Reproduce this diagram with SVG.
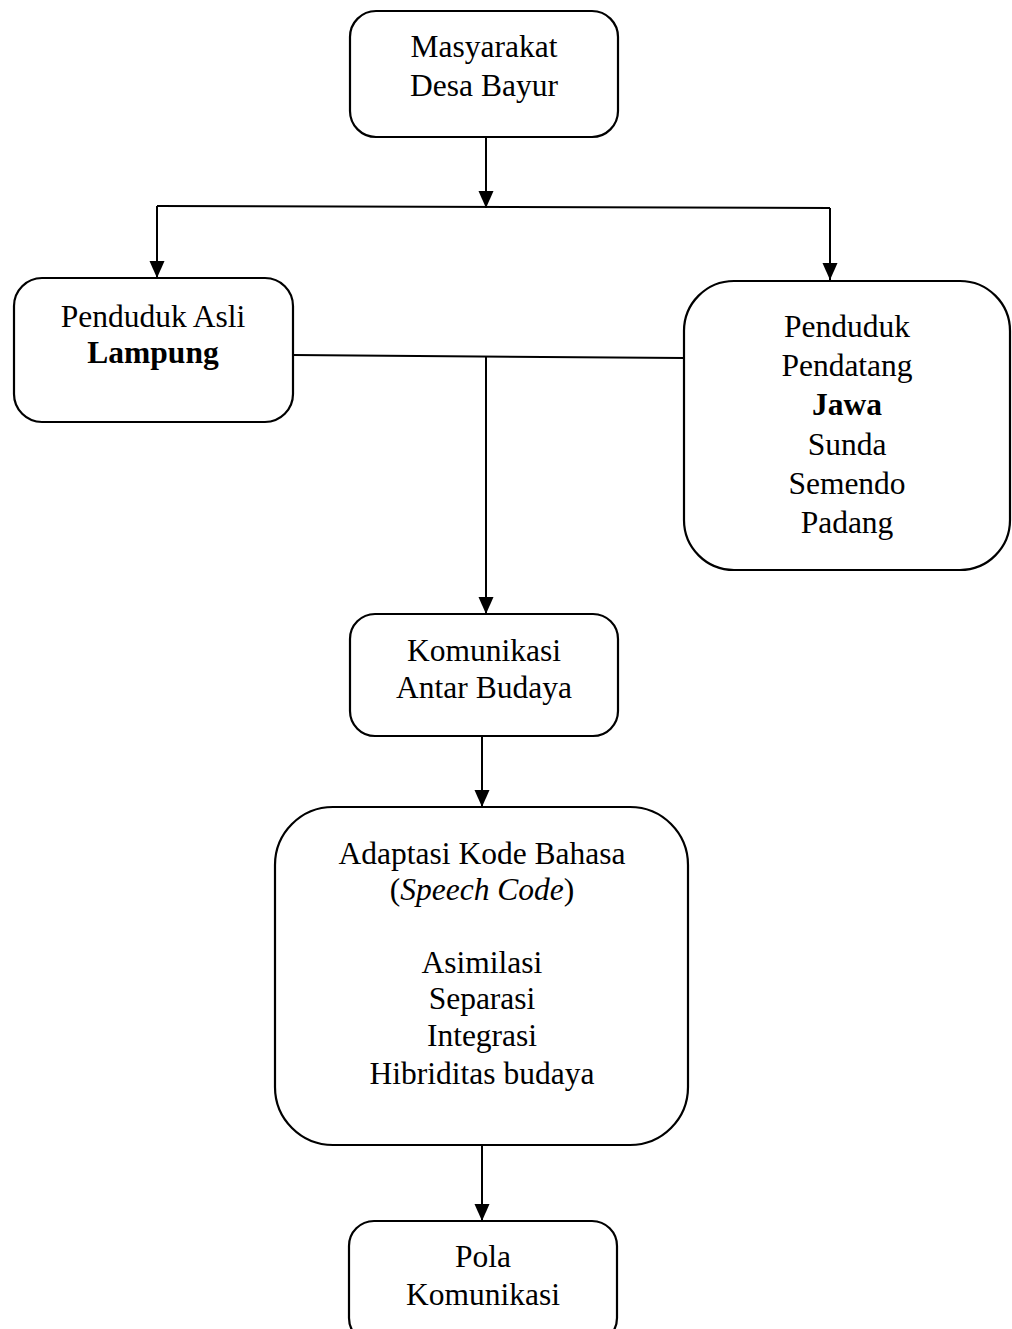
<svg xmlns="http://www.w3.org/2000/svg" width="1012" height="1329" viewBox="0 0 1012 1329">
<style>
.box{fill:#fff;stroke:#000;stroke-width:2.2}
.t{font-family:"Liberation Serif","Times New Roman",serif;font-size:31.5px;fill:#000;text-anchor:middle}
.b{font-weight:bold}
.i{font-style:italic}
.c{stroke:#000;stroke-width:2;fill:none}
</style>
<defs>
<marker id="ah" markerUnits="userSpaceOnUse" markerWidth="18" markerHeight="16" refX="17" refY="7.5" orient="auto">
<path d="M0,0 L17,7.5 L0,15 z" fill="#000"/>
</marker>
</defs>
<g id="connectors">
<line class="c" x1="486" y1="137" x2="486" y2="208" marker-end="url(#ah)"/>
<line class="c" x1="157" y1="206" x2="830" y2="208"/>
<line class="c" x1="157" y1="206" x2="157" y2="278" marker-end="url(#ah)"/>
<line class="c" x1="830" y1="208" x2="830" y2="280" marker-end="url(#ah)"/>
<line class="c" x1="293" y1="355" x2="684" y2="358"/>
<line class="c" x1="486" y1="357" x2="486" y2="614" marker-end="url(#ah)"/>
<line class="c" x1="482" y1="736" x2="482" y2="807" marker-end="url(#ah)"/>
<line class="c" x1="482" y1="1145" x2="482" y2="1221" marker-end="url(#ah)"/>
</g>
<g id="masyarakat">
<rect class="box" x="350" y="11" width="268" height="126" rx="26"/>
<text class="t" x="484" y="57">Masyarakat</text>
<text class="t" x="484" y="96">Desa Bayur</text>
</g>
<g id="asli">
<rect class="box" x="14" y="278" width="279" height="144" rx="28"/>
<text class="t" x="153" y="327">Penduduk Asli</text>
<text class="t b" x="153" y="363">Lampung</text>
</g>
<g id="pendatang">
<rect class="box" x="684" y="281" width="326" height="289" rx="50"/>
<text class="t" x="847" y="337">Penduduk</text>
<text class="t" x="847" y="376">Pendatang</text>
<text class="t b" x="847" y="415">Jawa</text>
<text class="t" x="847" y="455">Sunda</text>
<text class="t" x="847" y="494">Semendo</text>
<text class="t" x="847" y="533">Padang</text>
</g>
<g id="komunikasi">
<rect class="box" x="350" y="614" width="268" height="122" rx="25"/>
<text class="t" x="484" y="661">Komunikasi</text>
<text class="t" x="484" y="698">Antar Budaya</text>
</g>
<g id="adaptasi">
<rect class="box" x="275" y="807" width="413" height="338" rx="58"/>
<text class="t" x="482" y="864">Adaptasi Kode Bahasa</text>
<text class="t" x="482" y="900">(<tspan class="i">Speech Code</tspan>)</text>
<text class="t" x="482" y="973">Asimilasi</text>
<text class="t" x="482" y="1009">Separasi</text>
<text class="t" x="482" y="1046">Integrasi</text>
<text class="t" x="482" y="1084">Hibriditas budaya</text>
</g>
<g id="pola">
<rect class="box" x="349" y="1221" width="268" height="122" rx="25"/>
<text class="t" x="483" y="1267">Pola</text>
<text class="t" x="483" y="1305">Komunikasi</text>
</g>
</svg>
